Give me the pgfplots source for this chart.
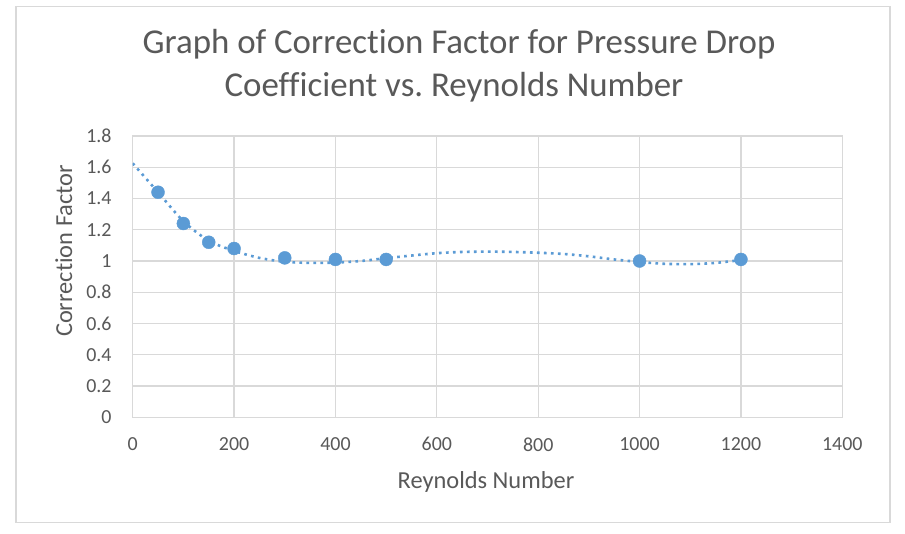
\documentclass[border=0pt]{standalone}
\usepackage{pgfplots}
\pgfplotsset{compat=1.18}
\usepackage{fontspec}
\setmainfont[Ligatures=NoCommon]{Carlito}
\frenchspacing
\definecolor{txt}{HTML}{595959}
\definecolor{grd}{HTML}{D9D9D9}
\definecolor{ser}{HTML}{5B9BD5}

\begin{document}
\begin{tikzpicture}[x=1bp,y=1bp]
  % page and chart frame (1bp = 1px of the reference)
  \fill[white] (0,0) rectangle (905,534);
  \draw[grd, line width=1.3bp] (16,11.3) rectangle (890,527.7);

  \begin{axis}[
      at={(132.7bp,116.7bp)}, anchor=south west,
      scale only axis,
      width=709.6bp, height=281.3bp,
      xmin=0, xmax=1400,
      ymin=0, ymax=1.8,
      xtick={0,200,400,600,800,1000,1200,1400},
      ytick={0,0.2,0.4,0.6,0.8,1,1.2,1.4,1.6,1.8},
      grid=major,
      major grid style={grd, line width=1.3bp},
      axis line style={grd, line width=1.3bp},
      tick style={draw=none},
      ticklabel style={font=\fontsize{20}{24}\selectfont, text=txt, inner sep=0pt},
      xticklabel style={yshift=-20bp},
      yticklabel style={xshift=-21bp},
      /pgf/number format/assume math mode=true,
      /pgf/number format/1000 sep={},
    ]
    % polynomial trendline
    \addplot[ser, line width=2.6bp, dash pattern=on 2.6bp off 4.4bp, smooth] coordinates {
      (0,1.625) (50,1.44) (100,1.255) (150,1.13) (200,1.065) (250,1.02)
      (300,0.995) (350,0.988) (400,0.99) (450,1.0) (500,1.018) (550,1.035)
      (600,1.05) (650,1.058) (700,1.06) (750,1.058) (800,1.053) (850,1.045)
      (900,1.03) (950,1.01) (1000,0.994) (1050,0.982) (1100,0.98) (1150,0.988)
      (1200,1.006)
    };
    % measured points
    \addplot[only marks, mark=*, mark size=6.5bp, ser, mark options={draw=ser, fill=ser}] coordinates {
      (50,1.44) (100,1.24) (150,1.12) (200,1.08) (300,1.02)
      (400,1.01) (500,1.01) (1000,1.0) (1200,1.01)
    };
  \end{axis}

  \node[txt, anchor=base, font=\fontsize{35}{40}\selectfont] at (459,480) {Graph of Correction Factor for Pressure Drop};
  \node[txt, anchor=base, font=\fontsize{35}{40}\selectfont] at (454,437) {Coefficient vs. Reynolds Number};
  \node[txt, anchor=base, font=\fontsize{24.5}{28}\selectfont] at (486,45) {Reynolds Number};
  \node[txt, anchor=base, rotate=90, font=\fontsize{24.5}{28}\selectfont] at (72,283) {Correction Factor};
\end{tikzpicture}
\end{document}
